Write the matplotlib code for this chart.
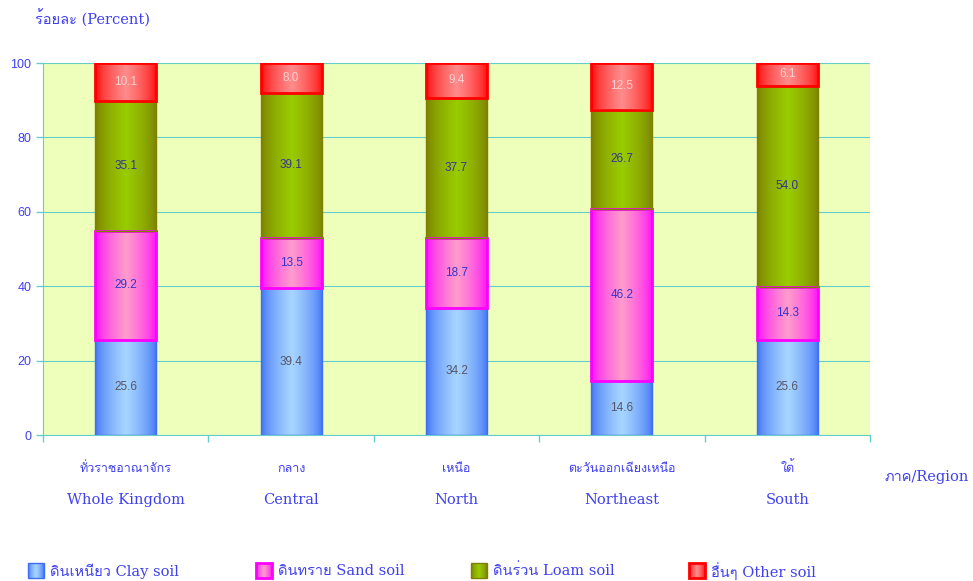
import numpy as np
import matplotlib
matplotlib.use('Agg')
import matplotlib.pyplot as plt
from matplotlib import font_manager
from matplotlib.patches import Rectangle
from matplotlib.colors import to_rgb

# data
regions_th = ['ทั่วราชอาณาจักร', 'กลาง', 'เหนือ', 'ตะวันออกเฉียงเหนือ', 'ใต้']
regions_en = ['Whole Kingdom', 'Central', 'North', 'Northeast', 'South']
clay = [25.6, 39.4, 34.2, 14.6, 25.6]
sand = [29.2, 13.5, 18.7, 46.2, 14.3]
loam = [35.1, 39.1, 37.7, 26.7, 54.0]
other = [10.1, 8.0, 9.4, 12.5, 6.1]
series_names = ['ดินเหนียว Clay soil', 'ดินทราย Sand soil', 'ดินร่วน Loam soil', 'อื่นๆ Other soil']
y_ticks = [0, 20, 40, 60, 80, 100]

# look for a font that has Thai glyphs
thai_font = None
try:
    from fontTools.ttLib import TTFont
    for f in sorted(font_manager.findSystemFonts()):
        try:
            tt = TTFont(f, fontNumber=0, lazy=True)
            if 0x0E01 in tt.getBestCmap():
                font_manager.fontManager.addfont(f)
                thai_font = font_manager.FontProperties(fname=f).get_name()
                break
        except Exception:
            pass
except Exception:
    pass

serif_fam = ['DejaVu Serif'] + ([thai_font] if thai_font else [])
sans_fam = ['Liberation Sans', 'DejaVu Sans']
plt.rcParams['font.family'] = serif_fam

txt_blue = '#4040f0'
grid_col = '#66cccc'

# (edge colour of gradient, centre colour, border colour, border width, label colour)
styles = [
    ('#3a6cf6', '#a8d6ff', '#3f6ff0', 1.0, '#555566'),
    ('#ff00ff', '#ff9ccc', '#ff00ff', 2.0, '#3333cc'),
    ('#7a7a00', '#99cc00', '#808000', 1.0, '#333399'),
    ('#ff0000', '#ff8c8c', '#ff0000', 2.0, '#ffd0d0'),
]

def gradient(c_edge, c_mid, n=64):
    x = np.linspace(0, 1, n)
    t = (1 - np.abs(2 * x - 1)) ** 0.6
    e = np.array(to_rgb(c_edge))
    m = np.array(to_rgb(c_mid))
    return (e[None, :] + (m - e)[None, :] * t[:, None])[None, :, :]

fig = plt.figure(figsize=(9.73, 5.81), dpi=100)
ax = fig.add_axes([43 / 973, 1 - 435 / 581, (870 - 43) / 973, (435 - 63) / 581])
ax.set_facecolor('#eeffbb')

x = np.arange(len(regions_en))
width = 0.37
bottom = np.zeros(len(x))
for vals, (ce, cm, cb, lw, lc) in zip([clay, sand, loam, other], styles):
    bars = ax.bar(x, vals, width, bottom=bottom, facecolor='none', edgecolor=cb,
                  linewidth=lw, zorder=3)
    grad = gradient(ce, cm)
    for b, v, b0 in zip(bars, vals, bottom):
        im = ax.imshow(grad, extent=[b.get_x(), b.get_x() + b.get_width(), b0, b0 + v],
                       aspect='auto', zorder=2, interpolation='bilinear')
        im.set_clip_path(b)
        ax.text(b.get_x() + b.get_width() / 2, b0 + v / 2, f'{v:.1f}', ha='center',
                va='center', fontsize=8.5, color=lc, family=sans_fam, zorder=4)
    bottom = bottom + np.array(vals)

ax.set_xlim(-0.5, len(x) - 0.5)
ax.set_ylim(0, 100)
ax.set_yticks(y_ticks)
ax.set_yticklabels([str(v) for v in y_ticks], family=sans_fam, fontsize=9, color=txt_blue)
ax.yaxis.grid(True, color=grid_col, linewidth=0.8, zorder=1)
ax.set_axisbelow(True)
ax.set_xticks(np.arange(len(x) + 1) - 0.5)
ax.set_xticklabels([])
ax.tick_params(axis='both', colors=grid_col, length=5, width=1)
ax.tick_params(axis='y', labelcolor=txt_blue)
for s in ['top', 'right']:
    ax.spines[s].set_visible(False)
for s in ['left', 'bottom']:
    ax.spines[s].set_color(grid_col)
ax.axhline(100, color=grid_col, linewidth=1.2, zorder=1)

# category labels
for xi, th, en in zip(x, regions_th, regions_en):
    ax.annotate(th, (xi, 0), xytext=(0, -24), textcoords='offset points', xycoords='data',
                ha='center', va='center', fontsize=9, color=txt_blue)
    ax.annotate(en, (xi, 0), xytext=(0, -47), textcoords='offset points', xycoords='data',
                ha='center', va='center', fontsize=10.5, color=txt_blue)

fig.text(885 / 973, 1 - 477 / 581, 'ภาค/Region', fontsize=10.5, color=txt_blue,
         ha='left', va='center')
fig.text(35 / 973, 1 - 19 / 581, 'ร้อยละ (Percent)', fontsize=10.5, color=txt_blue,
         ha='left', va='center')

# legend
lax = fig.add_axes([0, 0, 1, 1], zorder=-1)
lax.set_xlim(0, 973)
lax.set_ylim(581, 0)
lax.axis('off')
leg_x = [28, 256, 471, 689]
for lx, name, (ce, cm, cb, lw, lc) in zip(leg_x, series_names, styles):
    r = Rectangle((lx, 563), 16, 15, facecolor='none', edgecolor=cb, linewidth=lw)
    lax.add_patch(r)
    im = lax.imshow(gradient(ce, cm), extent=[lx, lx + 16, 578, 563], aspect='auto',
                    interpolation='bilinear')
    im.set_clip_path(r)
    lax.text(lx + 22, 571, name, fontsize=10.5, color=txt_blue, ha='left', va='center')
lax.set_xlim(0, 973)
lax.set_ylim(581, 0)

fig.savefig('out.png', dpi=100)
